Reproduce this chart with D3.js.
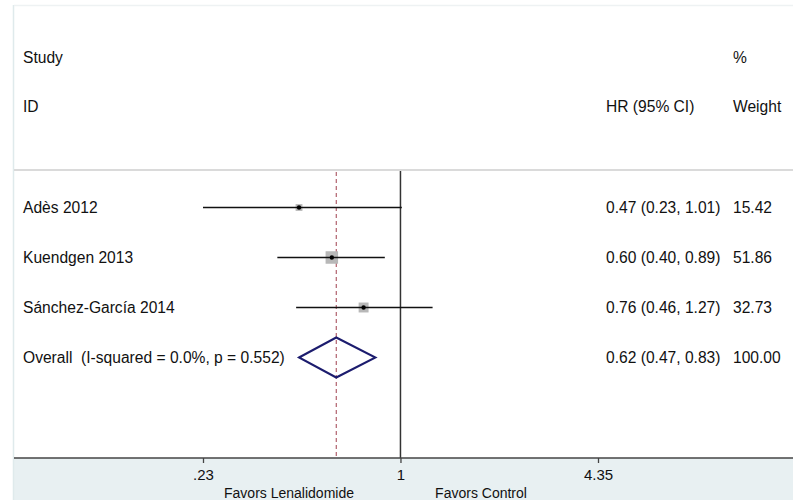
<!DOCTYPE html>
<html><head><meta charset="utf-8">
<script src="https://cdn.jsdelivr.net/npm/d3@7"></script>
<style>
html,body{margin:0;padding:0;background:#fff;}
text{font-family:Arial,"Liberation Sans",sans-serif;fill:#111;}
</style></head>
<body><svg id="c" width="793" height="500"></svg>
<script>
const studies = ["Adès 2012", "Kuendgen 2013", "Sánchez-García 2014"];
const hr      = [0.47, 0.60, 0.76];
const lo      = [0.23, 0.40, 0.46];
const hi      = [1.01, 0.89, 1.27];
const weight  = [15.42, 51.86, 32.73];
const overallLabel = "Overall  (I-squared = 0.0%, p = 0.552)";
const overall = {hr: 0.62, lo: 0.47, hi: 0.83, weight: 100.00};
const tickValues = [0.23, 1, 4.35];
const tickLabels = [".23", "1", "4.35"];

const svg = d3.select("#c");
const W = 793, H = 500;
const left = 14, axisY = 458, sepY = 170;
const FS = "15.6px";

// backgrounds / frame
svg.append("rect").attr("x", left).attr("y", axisY).attr("width", W - left).attr("height", H - axisY).attr("fill", "#e8f0f2");
svg.append("line").attr("x1", left - 0.5).attr("x2", left - 0.5).attr("y1", 5).attr("y2", H).attr("stroke", "#dfeaec").attr("stroke-width", 1.5);
svg.append("line").attr("x1", left).attr("x2", W).attr("y1", 5.5).attr("y2", 5.5).attr("stroke", "#eef2f3").attr("stroke-width", 1.5);
svg.append("line").attr("x1", left).attr("x2", W).attr("y1", sepY).attr("y2", sepY).attr("stroke", "#dadada").attr("stroke-width", 2);

const x = d3.scaleLog().domain([0.23, 4.35]).range([203, 598]);
const rowNames = studies.concat(["Overall"]);
const y = d3.scalePoint().domain(rowNames).range([207.5, 357.5]);
const box = d3.scaleSqrt().domain([0, 51.86]).range([0, 12.5]);

// header text
const hdr = svg.append("g").style("font-size", FS);
hdr.append("text").attr("x", 23).attr("y", 63).text("Study");
hdr.append("text").attr("x", 23).attr("y", 112).text("ID");
hdr.append("text").attr("x", 733).attr("y", 63).text("%");
hdr.append("text").attr("x", 733).attr("y", 112).text("Weight");
hdr.append("text").attr("x", 606).attr("y", 112).text("HR (95% CI)");

// reference lines
svg.append("line").attr("x1", x(1)).attr("x2", x(1)).attr("y1", sepY + 1).attr("y2", axisY)
  .attr("stroke", "#333").attr("stroke-width", 1.5);
svg.append("line").attr("x1", x(overall.hr)).attr("x2", x(overall.hr)).attr("y1", sepY + 2).attr("y2", axisY)
  .attr("stroke", "#a0404f").attr("stroke-width", 1).attr("stroke-dasharray", "4,3");

const f2 = d3.format(".2f");
const data = studies.map((s, i) => ({s, hr: hr[i], lo: lo[i], hi: hi[i], w: weight[i]}));

// study rows
const g = svg.append("g");
data.forEach(d => {
  const yy = y(d.s);
  const sz = box(d.w);
  g.append("rect").attr("x", x(d.hr) - sz / 2).attr("y", yy - sz / 2).attr("width", sz).attr("height", sz).attr("fill", "#b8b8b8");
  g.append("line").attr("x1", x(d.lo)).attr("x2", x(d.hi)).attr("y1", yy).attr("y2", yy).attr("stroke", "#111").attr("stroke-width", 1.5);
  g.append("circle").attr("cx", x(d.hr)).attr("cy", yy).attr("r", 2.2).attr("fill", "#000");
  g.append("text").attr("x", 23).attr("y", yy + 5.5).style("font-size", FS).text(d.s);
  g.append("text").attr("x", 606).attr("y", yy + 5.5).style("font-size", FS)
    .text(`${f2(d.hr)} (${f2(d.lo)}, ${f2(d.hi)})`);
  g.append("text").attr("x", 733).attr("y", yy + 5.5).style("font-size", FS).text(f2(d.w));
});

// overall diamond
const yo = y("Overall");
const dh = 20;
g.append("path")
  .attr("d", `M${x(overall.lo)},${yo} L${x(overall.hr)},${yo - dh} L${x(overall.hi)},${yo} L${x(overall.hr)},${yo + dh} Z`)
  .attr("fill", "none").attr("stroke", "#1c1c6e").attr("stroke-width", 2);
g.append("text").attr("x", 23).attr("y", yo + 5.5).style("font-size", FS).style("white-space", "pre").text(overallLabel);
g.append("text").attr("x", 606).attr("y", yo + 5.5).style("font-size", FS)
  .text(`${f2(overall.hr)} (${f2(overall.lo)}, ${f2(overall.hi)})`);
g.append("text").attr("x", 733).attr("y", yo + 5.5).style("font-size", FS).text(f2(overall.weight));

// axis
svg.append("line").attr("x1", left).attr("x2", W).attr("y1", axisY).attr("y2", axisY).attr("stroke", "#444").attr("stroke-width", 1.6);
const axis = d3.axisBottom(x).tickValues(tickValues).tickFormat((d, i) => tickLabels[i]).tickSize(5).tickPadding(6);
const ag = svg.append("g").attr("transform", `translate(0,${axisY})`).call(axis);
ag.select(".domain").remove();
ag.selectAll(".tick line").attr("stroke", "#444").attr("stroke-width", 1.3);
ag.selectAll(".tick text").style("font-size", "15px").style("font-family", "Arial,'Liberation Sans',sans-serif").attr("fill", "#111");

svg.append("text").attr("x", 289).attr("y", 498).attr("text-anchor", "middle").style("font-size", "14px").text("Favors Lenalidomide");
svg.append("text").attr("x", 481).attr("y", 498).attr("text-anchor", "middle").style("font-size", "14px").text("Favors Control");
</script></body></html>
